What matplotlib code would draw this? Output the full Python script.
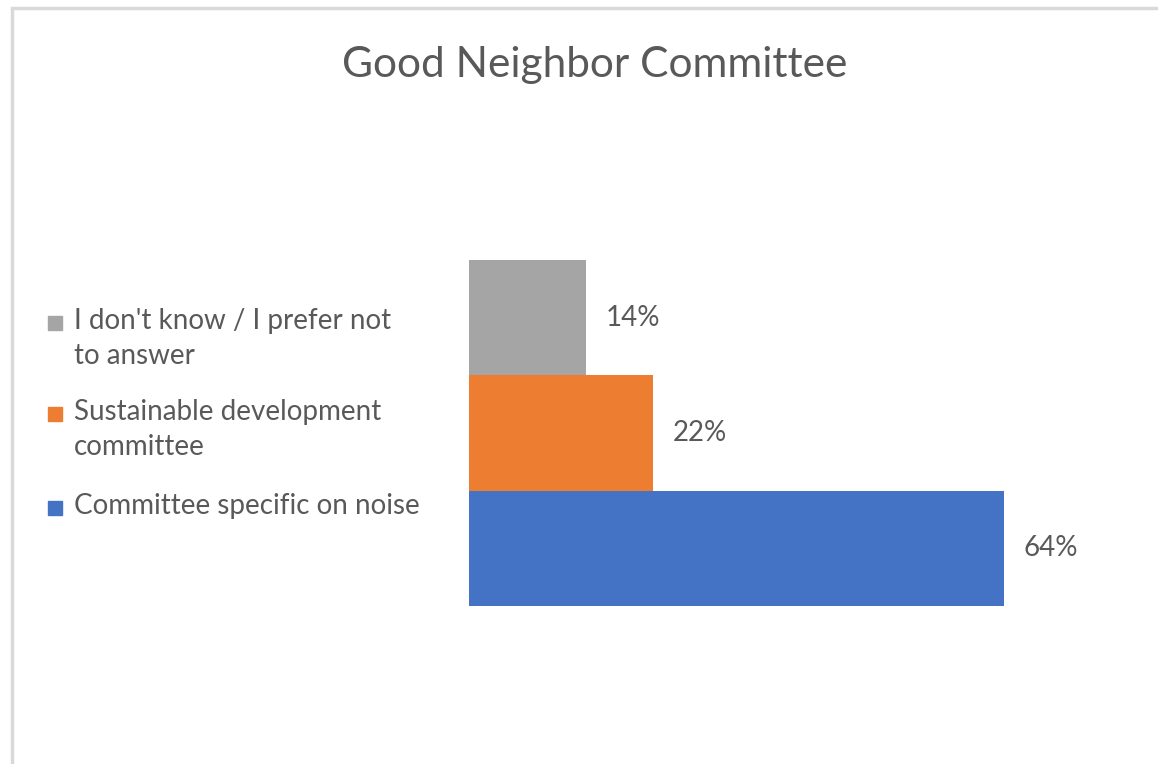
import matplotlib.pyplot as plt
from matplotlib.patches import Rectangle

plt.rcParams['font.family'] = ['Lato', 'DejaVu Sans']

categories = ['Committee specific on noise', 'Sustainable development\ncommittee',
              "I don't know / I prefer not\nto answer"]
values = [64, 22, 14]
colors = ['#4472c4', '#ed7d31', '#a5a5a5']
text_col = '#595959'

W, H = 1158, 764
fig = plt.figure(figsize=(W / 100, H / 100), dpi=100)

# chart frame (light grey border, cut off at right/bottom)
fig.add_artist(Rectangle((12 / W, -0.1), 1.2, 1 - 8 / H + 0.1, transform=fig.transFigure,
                         fill=False, edgecolor='#d9d9d9', linewidth=2.5))

ax = fig.add_axes([469 / W, 158 / H, 585 / W, 346 / H])
ypos = range(len(values))
bars = ax.barh(ypos, values, height=1.0, color=colors)
ax.set_xlim(0, 70)
ax.set_ylim(-0.5, 2.5)
ax.axis('off')

for b, v in zip(bars, values):
    ax.annotate(f'{v}%', (b.get_width(), b.get_y() + b.get_height() / 2),
                xytext=(14, 0), textcoords='offset points', va='center', ha='left',
                fontsize=20, color=text_col)

fig.text(595 / W, 1 - 65 / H, 'Good Neighbor Committee', ha='center', va='center',
         fontsize=30.5, color=text_col)

# legend drawn by hand, top entry first
leg_y = [322, 413, 507]
for lab, c, y in zip(categories[::-1], colors[::-1], leg_y):
    fig.add_artist(Rectangle((48 / W, 1 - (y + 8) / H), 14 / W, 14 / H,
                             transform=fig.transFigure, color=c))
    fig.text(74 / W, 1 - (y - 14) / H, lab, ha='left', va='top', fontsize=20,
             color=text_col, linespacing=1.42)

plt.savefig('out.png', dpi=100)
